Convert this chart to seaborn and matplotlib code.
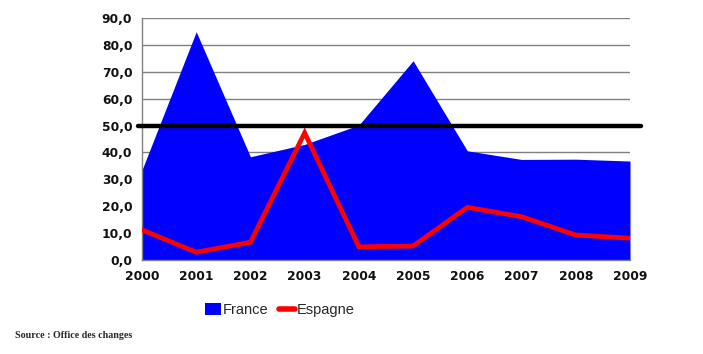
import matplotlib
matplotlib.use("Agg")
import matplotlib.pyplot as plt
import seaborn as sns
import pandas as pd
from matplotlib.patches import Patch
from matplotlib.lines import Line2D

years = [2000, 2001, 2002, 2003, 2004, 2005, 2006, 2007, 2008, 2009]
france = [33.5, 84.9, 38.4, 43.0, 50.2, 74.1, 40.6, 37.4, 37.5, 36.8]
espagne = [11.2, 2.9, 6.6, 47.3, 4.9, 5.2, 19.6, 16.1, 9.3, 8.1]
threshold = 50.0
yticks = [0, 10, 20, 30, 40, 50, 60, 70, 80, 90]

df = pd.DataFrame({"year": years, "France": france, "Espagne": espagne})

sns.set_style("white")
fig = plt.figure(figsize=(7.03, 3.54), dpi=100)
ax = fig.add_axes([142/703, 1-260/354, 488/703, 242/354])

ax.fill_between(df["year"], 0, df["France"], color="#0000FF", linewidth=0, zorder=2)
sns.lineplot(data=df, x="year", y="Espagne", color="#FF0000", linewidth=3.4,
             ax=ax, zorder=4, solid_joinstyle="miter")
ax.axhline(threshold, xmin=-0.008, xmax=1.022, color="black", linewidth=3.2,
           clip_on=False, zorder=5)

ax.set_xlim(2000, 2009)
ax.set_ylim(0, 90)
ax.set_xticks(years)
ax.set_xticklabels([str(y) for y in years])
ax.set_yticks(yticks)
ax.set_yticklabels([f"{v:.1f}".replace(".", ",") for v in yticks])
ax.grid(axis="y", color="#808080", linewidth=1.0, zorder=1)
ax.set_axisbelow(True)
for s in ["top", "right"]:
    ax.spines[s].set_visible(False)
for s in ["left", "bottom"]:
    ax.spines[s].set_color("#808080")
    ax.spines[s].set_linewidth(1.0)
ax.tick_params(axis="both", which="both", direction="out", length=4, width=1,
               color="#808080", labelsize=8.8, pad=3, labelcolor="#111111")
for lab in ax.get_xticklabels() + ax.get_yticklabels():
    lab.set_fontweight("bold")
ax.set_xlabel("")
ax.set_ylabel("")

handles = [Patch(facecolor="#0000FF", edgecolor="none", label="France"),
           Line2D([0], [0], color="#FF0000", linewidth=4, solid_capstyle="round", label="Espagne")]
fig.legend(handles=handles, loc="center", bbox_to_anchor=(280/703, 1-310/354),
           ncol=2, frameon=False, prop={"family": "Liberation Sans", "size": 10.5},
           handlelength=1.1, handleheight=0.8, handletextpad=0.15, columnspacing=0.7)

fig.text(15/703, 1-336/354, "Source : Office des changes", family="Liberation Serif",
         fontweight="bold", fontsize=7.2, va="center", ha="left")

fig.savefig("out.png", dpi=100)
